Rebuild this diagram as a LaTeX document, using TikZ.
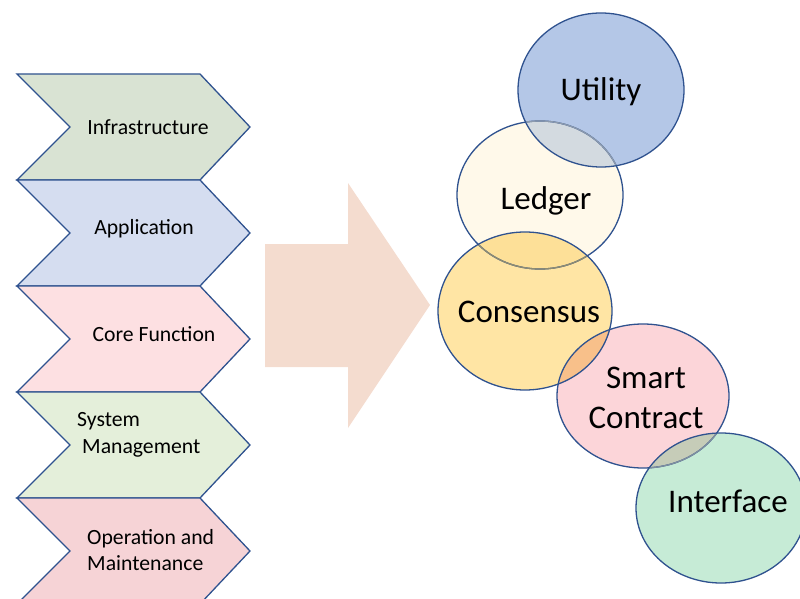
\documentclass[tikz,border=0pt]{standalone}
\usepackage{fontspec}
\setmainfont{Carlito}
\begin{document}
\begin{tikzpicture}[x=1pt,y=-1pt,
  chev/.style={draw=bord, line width=1.3pt, line join=miter},
  circ/.style={draw=bord, line width=1.3pt},
  ctext/.style={font=\fontsize{21.7}{26.5}\selectfont, text=black, inner sep=0pt},
  otext/.style={font=\fontsize{33}{40}\selectfont, text=black, inner sep=0pt, align=center}]
\definecolor{bord}{HTML}{2F528F}
\definecolor{c1}{HTML}{D9E3D3}
\definecolor{c2}{HTML}{D5DDF0}
\definecolor{c3}{HTML}{FDE0E2}
\definecolor{c4}{HTML}{E4EFDA}
\definecolor{c5}{HTML}{F6D3D6}
\definecolor{arr}{HTML}{F4DCCF}
\definecolor{uC}{HTML}{B4C7E7}
\definecolor{lC}{HTML}{FFF9EA}
\definecolor{kC}{HTML}{FFE5A4}
\definecolor{sC}{HTML}{FCD5D9}
\definecolor{iC}{HTML}{C6EBD6}
\definecolor{ulC}{HTML}{D3DAE0}
\definecolor{lkC}{HTML}{FDE098}
\definecolor{ksC}{HTML}{F8C08A}
\definecolor{siC}{HTML}{C6CCB8}
\definecolor{ulB}{HTML}{8C9AAE}
\definecolor{lkB}{HTML}{8E8C72}
\definecolor{siB}{HTML}{7F8FA0}
\useasboundingbox (0,0) rectangle (800,599);
\begin{scope}
\clip (0,0) rectangle (800,599);
% chevrons
\foreach \t/\c in {74/c1,180/c2,286/c3,392/c4,498/c5}{
  \path[chev, fill=\c] (17,\t) -- (200,\t) -- (250,\t+53) -- (200,\t+106) -- (17,\t+106) -- (70,\t+53) -- cycle;
}
% big arrow
\fill[arr] (265,244) -- (348,244) -- (348,183) -- (430,305) -- (348,428) -- (348,367) -- (265,367) -- cycle;
% circles
\fill[uC] (601,90) ellipse [x radius=83, y radius=77];
\fill[lC] (540,195) ellipse [x radius=83, y radius=74];
\fill[kC] (525,311) ellipse [x radius=87, y radius=79];
\fill[sC] (643,396) ellipse [x radius=86, y radius=72];
\fill[iC] (721,508) ellipse [x radius=85, y radius=75];
\begin{scope}
\clip (601,90) ellipse [x radius=83, y radius=77];
\fill[ulC] (540,195) ellipse [x radius=83, y radius=74];
\end{scope}
\begin{scope}
\clip (540,195) ellipse [x radius=83, y radius=74];
\fill[lkC] (525,311) ellipse [x radius=87, y radius=79];
\end{scope}
\begin{scope}
\clip (525,311) ellipse [x radius=87, y radius=79];
\fill[ksC] (643,396) ellipse [x radius=86, y radius=72];
\end{scope}
\begin{scope}
\clip (643,396) ellipse [x radius=86, y radius=72];
\fill[siC] (721,508) ellipse [x radius=85, y radius=75];
\end{scope}
\draw[circ] (601,90) ellipse [x radius=83, y radius=77];
\draw[circ] (540,195) ellipse [x radius=83, y radius=74];
\draw[circ] (525,311) ellipse [x radius=87, y radius=79];
\draw[circ] (643,396) ellipse [x radius=86, y radius=72];
\draw[circ] (721,508) ellipse [x radius=85, y radius=75];
% softened arcs inside overlaps
\begin{scope}
\clip (601,90) ellipse [x radius=82.3, y radius=76.3];
\draw[circ, draw=ulB] (540,195) ellipse [x radius=83, y radius=74];
\end{scope}
\begin{scope}
\clip (525,311) ellipse [x radius=86.3, y radius=78.3];
\draw[circ, draw=lkB] (540,195) ellipse [x radius=83, y radius=74];
\end{scope}
\begin{scope}
\clip (721,508) ellipse [x radius=84.3, y radius=74.3];
\draw[circ, draw=siB] (643,396) ellipse [x radius=86, y radius=72];
\end{scope}
\end{scope}
% chevron labels
\node[ctext] (infra) at (148,127) {Infrastructure};
\node[ctext] (app) at (144,229) {Application};
\node[ctext] (core) at (154,334) {Core Function};
\node[ctext, anchor=west, align=left] (sys) at (77,435) {System\\\hspace*{5pt}Management};
\node[ctext, anchor=west, align=left] (ops) at (87,550) {Operation and\\Maintenance};
% circle labels
\node[otext] (util) at (601,92) {Utility};
\node[otext] (ledg) at (546,201) {Ledger};
\node[otext] (cons) at (529,312) {Consensus};
\node[otext] (smart) at (646,398) {Smart\\Contract};
\node[otext] (intf) at (728,501) {Interface};
\end{tikzpicture}
\end{document}
